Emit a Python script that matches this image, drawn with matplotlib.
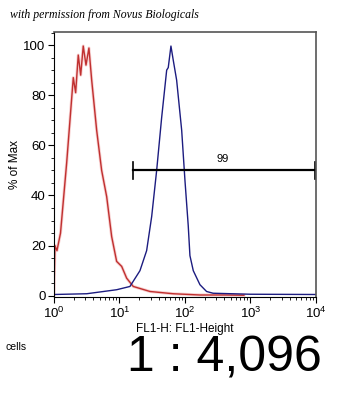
import numpy as np
import matplotlib.pyplot as plt
from matplotlib.ticker import MultipleLocator, LogLocator, NullFormatter

# control histogram (red) - log10(FL1) vs % of max
ctrl_log = [0.0, 0.015, 0.046, 0.10, 0.194, 0.295, 0.331, 0.371, 0.408, 0.447, 0.489,
            0.534, 0.576, 0.652, 0.728, 0.805, 0.881, 0.957, 1.034, 1.110, 1.211,
            1.466, 1.82, 2.23, 2.6, 2.9]
ctrl_pct = [0.5, 20, 18, 25, 53, 87, 81, 96, 88, 99.6, 92,
            98.8, 86, 66, 50, 39.5, 23.6, 13.7, 11.7, 7, 3.7,
            1.7, 0.8, 0.3, 0.3, 0.2]

# stained histogram (blue)
stain_log = [0.0, 0.5, 0.957, 1.160, 1.313, 1.415, 1.492, 1.568, 1.644, 1.721, 1.745,
             1.786, 1.821, 1.873, 1.950, 2.0, 2.05, 2.076, 2.127, 2.229, 2.33,
             2.43, 3.0, 4.0]
stain_pct = [0.5, 0.8, 2.4, 3.7, 10, 18, 31.6, 50, 71, 90, 91,
             99.6, 94, 86, 66, 46, 28, 16, 10, 4.4, 1.7,
             1, 0.6, 0.5]

# gate marker
gate_lo, gate_hi, gate_y = 10 ** 1.2, 10 ** 3.98, 50
gate_label = "99"

sans = ['Liberation Sans', 'DejaVu Sans']

fig = plt.figure(figsize=(3.55, 4.0), dpi=100)
ax = fig.add_axes([0.152, 0.2575, 0.738, 0.6625])

ax.plot(10 ** np.array(ctrl_log), ctrl_pct, color='#f0a0a0', lw=2.2, alpha=0.5)
ax.plot(10 ** np.array(ctrl_log), ctrl_pct, color='#c03030', lw=1.0)
ax.plot(10 ** np.array(stain_log), stain_pct, color='#1c1c80', lw=1.0)

ax.plot([gate_lo, gate_hi], [gate_y, gate_y], color='black', lw=1.6)
ax.plot([gate_lo, gate_lo], [gate_y - 3.5, gate_y + 3.5], color='black', lw=1.2)
ax.plot([gate_hi, gate_hi], [gate_y - 3.5, gate_y + 3.5], color='black', lw=1.2)
ax.text(10 ** 2.576, gate_y + 2.5, gate_label, ha='center', va='bottom',
        fontsize=8, family=sans)

ax.set_xscale('log')
ax.set_xlim(1, 1e4)
ax.set_ylim(-0.5, 105.2)
ax.yaxis.set_major_locator(MultipleLocator(20))
ax.yaxis.set_minor_locator(MultipleLocator(5))
ax.xaxis.set_major_locator(LogLocator(base=10, numticks=10))
ax.xaxis.set_minor_locator(LogLocator(base=10, subs=np.arange(2, 10), numticks=50))
ax.xaxis.set_minor_formatter(NullFormatter())
ax.tick_params(which='major', direction='out', length=4, width=0.8, labelsize=9.5)
ax.tick_params(which='minor', direction='out', length=2, width=0.6)
for lab in ax.get_xticklabels() + ax.get_yticklabels():
    lab.set_family(sans)
ax.tick_params(axis='x', pad=2)
ax.tick_params(axis='y', pad=2)

for s in ['top', 'right']:
    ax.spines[s].set_color('#555555')
    ax.spines[s].set_linewidth(1.2)

ax.set_ylabel('% of Max', fontsize=8.5, family=sans, labelpad=2)
ax.set_xlabel('FL1-H: FL1-Height', fontsize=8.5, family=sans, labelpad=2)

fig.text(0.028, 0.962, 'with permission from Novus Biologicals', fontsize=8.5,
         style='italic', family='Liberation Serif', va='center')
fig.text(0.015, 0.133, 'cells', fontsize=7.5, family=sans, va='center')
fig.text(0.632, 0.103, '1 : 4,096', fontsize=36, family=sans,
         ha='center', va='center')

fig.savefig('out.png', dpi=100)
